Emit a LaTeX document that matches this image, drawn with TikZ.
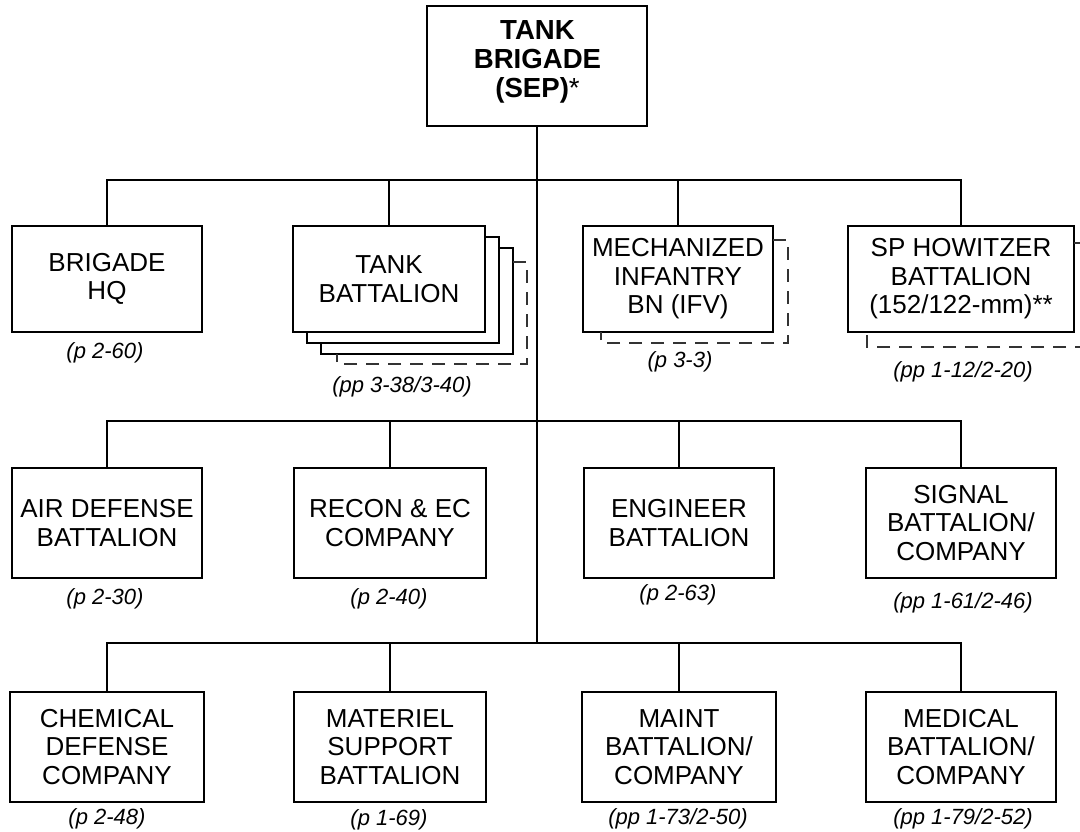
\documentclass[tikz,border=0pt]{standalone}
\usepackage{fontspec}
\setmainfont{Liberation Sans}
\tikzset{
  unit/.style={draw, line width=1pt, fill=white, align=center, inner sep=0pt,
    font=\fontsize{13}{14.2}\selectfont},
  r1box/.style={unit, minimum height=53pt},
  r2box/.style={unit, minimum height=55pt},
  r3box/.style={unit, minimum height=55pt},
  pg/.style={font=\fontsize{11}{13}\selectfont\itshape, inner sep=0pt},
  conn/.style={line width=1pt},
  ghost/.style={line width=0.7pt, black!80, dash pattern=on 6.5pt off 4.5pt}
}
\begin{document}
\begin{tikzpicture}[x=0.5pt,y=-0.5pt]
\useasboundingbox (0,0) rectangle (1080,831);
\clip (0,0) rectangle (1080,831);

% top
\node[unit, minimum width=110pt, minimum height=60pt] (top) at (537,66) {};
\node[font=\fontsize{13.8}{14.5}\selectfont\bfseries, align=center, inner sep=0pt] (toptext) at (537.5,62)
  {TANK\\BRIGADE\\(SEP)\mdseries*};

% row 1
\node[r1box, minimum width=95pt] (hq) at (107,279) {BRIGADE\\HQ};

\node[r1box, minimum width=96pt] (tb3) at (417,301) {};
\node[r1box, minimum width=96pt] (tb2) at (403,290) {};
\node[r1box, minimum width=96pt] (tb) at (389,279) {TANK\\BATTALION};
\draw[ghost] (513,262) -- (527,262) -- (527,364) -- (337,364) -- (337,354);

\node[r1box, minimum width=95pt] (mi) at (678,279) {MECHANIZED\\INFANTRY\\BN (IFV)};
\draw[ghost] (773,240) -- (788,240) -- (788,343) -- (601,343) -- (601,332);

\node[r1box, minimum width=113pt] (sp) at (961,279) {SP HOWITZER\\BATTALION\\(152/122-mm)**};
\draw[ghost] (1074,243) -- (1095,243) -- (1095,347) -- (867,347) -- (867,332);

\node[pg] (lhq) at (105,353) {(p 2-60)};
\node[pg] (ltb) at (402,387) {(pp 3-38/3-40)};
\node[pg] (lmi) at (680,362) {(p 3-3)};
\node[pg] (lsp) at (963,372) {(pp 1-12/2-20)};

% row 2
\node[r2box, minimum width=95pt] (ad) at (107,523) {AIR DEFENSE\\BATTALION};
\node[r2box, minimum width=96pt] (rc) at (390,523) {RECON \& EC\\COMPANY};
\node[r2box, minimum width=95pt] (en) at (679,523) {ENGINEER\\BATTALION};
\node[r2box, minimum width=95pt] (sg) at (961,523) {SIGNAL\\BATTALION/\\COMPANY};

\node[pg] (lad) at (105,599) {(p 2-30)};
\node[pg] (lrc) at (389,599) {(p 2-40)};
\node[pg] (len) at (678,595) {(p 2-63)};
\node[pg] (lsg) at (963,603) {(pp 1-61/2-46)};

% row 3
\node[r3box, minimum width=97pt] (ch) at (107,747) {CHEMICAL\\DEFENSE\\COMPANY};
\node[r3box, minimum width=96pt] (ms) at (390,747) {MATERIEL\\SUPPORT\\BATTALION};
\node[r3box, minimum width=97pt] (mt) at (679,747) {MAINT\\BATTALION/\\COMPANY};
\node[r3box, minimum width=95pt] (md) at (961,747) {MEDICAL\\BATTALION/\\COMPANY};

\node[pg] (lch) at (107,819) {(p 2-48)};
\node[pg] (lms) at (389,820) {(p 1-69)};
\node[pg] (lmt) at (678,819) {(pp 1-73/2-50)};
\node[pg] (lmd) at (963,819) {(pp 1-79/2-52)};

% connectors
\coordinate (b1) at (537,180);
\coordinate (b2) at (537,421);
\coordinate (b3) at (537,643);
\draw[conn] (top.south) -- (b3);
\draw[conn] (hq.north) -- (hq.north |- b1) -- (sp.north |- b1) -- (sp.north);
\draw[conn] (tb.north) -- (tb.north |- b1);
\draw[conn] (mi.north) -- (mi.north |- b1);
\draw[conn] (ad.north) -- (ad.north |- b2) -- (sg.north |- b2) -- (sg.north);
\draw[conn] (rc.north) -- (rc.north |- b2);
\draw[conn] (en.north) -- (en.north |- b2);
\draw[conn] (ch.north) -- (ch.north |- b3) -- (md.north |- b3) -- (md.north);
\draw[conn] (ms.north) -- (ms.north |- b3);
\draw[conn] (mt.north) -- (mt.north |- b3);
\end{tikzpicture}
\end{document}
